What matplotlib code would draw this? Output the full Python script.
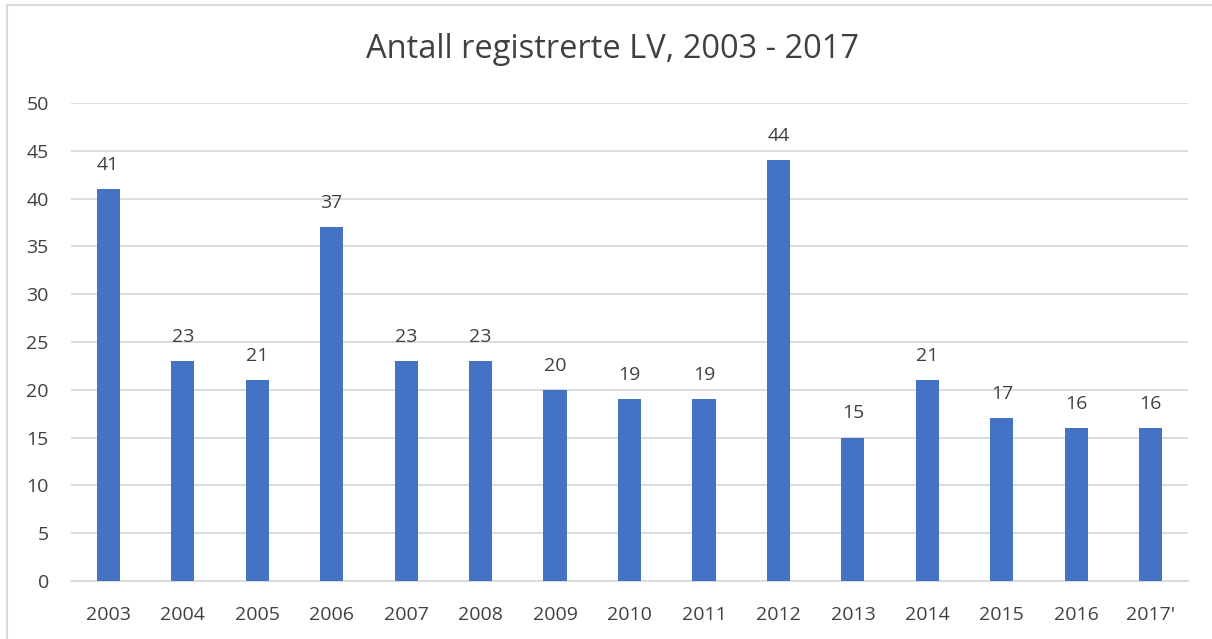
import matplotlib.pyplot as plt
from matplotlib.lines import Line2D

# data
years = ['2003', '2004', '2005', '2006', '2007', '2008', '2009', '2010',
         '2011', '2012', '2013', '2014', '2015', '2016', "2017'"]
antall = [41, 23, 21, 37, 23, 23, 20, 19, 19, 44, 15, 21, 17, 16, 16]

plt.rcParams['font.family'] = ['Open Sans', 'DejaVu Sans']
txt = '#404040'

fig = plt.figure(figsize=(12.12, 6.39), dpi=100)
ax = fig.add_axes([71 / 1212, 1 - 581 / 639, (1188 - 71) / 1212, (581 - 103) / 639])

x = range(len(years))
bars = ax.bar(x, antall, width=0.31, color='#4472C4', zorder=3)
for b, v in zip(bars, antall):
    ax.text(b.get_x() + b.get_width() / 2, v + 1.6, str(v), ha='center', va='bottom',
            fontsize=14, color=txt)

ax.set_xlim(-0.5, len(years) - 0.5)
ax.set_ylim(0, 50)
ax.set_yticks(range(0, 51, 5))
ax.set_xticks(list(x))
ax.set_xticklabels(years)
ax.grid(axis='y', color='#D9D9D9', linewidth=1.3, zorder=0)
for s in ['top', 'right', 'left']:
    ax.spines[s].set_visible(False)
ax.spines['bottom'].set_color('#D9D9D9')
ax.spines['bottom'].set_linewidth(1.3)
ax.tick_params(length=0, labelsize=14, colors=txt, pad=18)
ax.tick_params(axis='y', pad=16)

fig.suptitle('Antall registrerte LV, 2003 - 2017', fontsize=23.5, color=txt,
             x=0.505, y=0.948)

# chart frame
fig.add_artist(Line2D([7 / 1212, 7 / 1212], [0, 1 - 5 / 639], color='#D9D9D9', lw=1.5))
fig.add_artist(Line2D([7 / 1212, 1], [1 - 5 / 639, 1 - 5 / 639], color='#D9D9D9', lw=1.5))

fig.savefig('out.png')
